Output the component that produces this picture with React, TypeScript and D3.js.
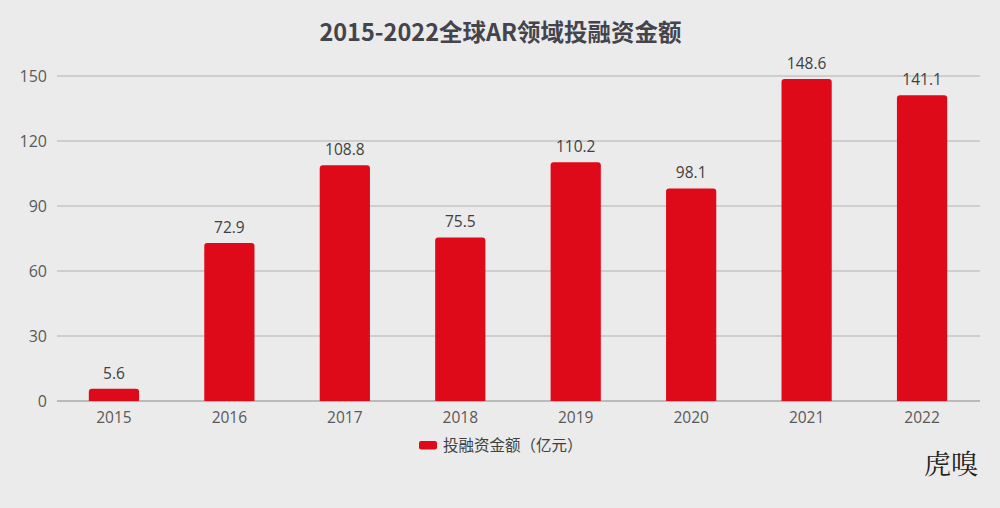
import React from "react";
import * as d3 from "d3";

const years = ["2015", "2016", "2017", "2018", "2019", "2020", "2021", "2022"];
const values = [5.6, 72.9, 108.8, 75.5, 110.2, 98.1, 148.6, 141.1];
const yTicks = [0, 30, 60, 90, 120, 150];
const title = "2015-2022全球AR领域投融资金额";
const seriesName = "投融资金额（亿元）";

const W = 1000, H = 508;
const CJK = "'Noto Sans CJK SC', 'Noto Sans', sans-serif";
const NUM = "'Open Sans', 'Noto Sans', sans-serif";

export default function App() {
  const x = d3.scaleBand().domain(years).range([56.5, 979.5]).paddingInner(0.565).paddingOuter(0.28);
  const y = d3.scaleLinear().domain([0, 150]).range([401, 76]);
  const bw = x.bandwidth();
  const r = 3;
  const barPath = (x0: number, y0: number, w: number, h: number) => {
    const rr = Math.min(r, h / 2);
    return `M${x0},${y0 + h}V${y0 + rr}Q${x0},${y0} ${x0 + rr},${y0}H${x0 + w - rr}Q${x0 + w},${y0} ${x0 + w},${y0 + rr}V${y0 + h}Z`;
  };
  return (
    <svg width={W} height={H} style={{ position: "absolute", left: 0, top: 0, background: "#ebebeb" }} fontFamily={CJK}>
      <rect x={0} y={0} width={W} height={H} fill="#ebebeb" />
      <text x={500.5} y={41} textAnchor="middle" fontSize={23.5} fontWeight="bold" fill="#44444c">{title}</text>
      {yTicks.map((t) => (
        <g key={t}>
          <line x1={57} x2={980} y1={y(t)} y2={y(t)} stroke={t === 0 ? "#aaaaaa" : "#c4c4c4"} strokeWidth={1.3} />
          <text x={47} y={y(t)} dy="0.35em" textAnchor="end" fontSize={16} fill="#595959" fontFamily={NUM}>{t}</text>
        </g>
      ))}
      {years.map((yr, i) => {
        const x0 = x(yr)!;
        const y0 = y(values[i]);
        return (
          <g key={yr}>
            <path d={barPath(x0, y0, bw, y(0) - y0)} fill="#df0a19" />
            <text x={x0 + bw / 2} y={y0 - 10} textAnchor="middle" fontSize={15.5} fill="#404040" fontFamily={NUM}>{values[i].toFixed(1)}</text>
            <text x={x0 + bw / 2} y={423} textAnchor="middle" fontSize={15.5} fill="#595959" fontFamily={NUM}>{yr}</text>
          </g>
        );
      })}
      <rect x={419} y={441} width={18} height={8.5} rx={2} fill="#df0a19" />
      <text x={443} y={450.5} fontSize={15.5} fill="#404040">{seriesName}</text>
      <text x={978} y={474} textAnchor="end" fontSize={27} fill="#222" fontFamily="'Noto Serif CJK SC', 'Noto Sans CJK SC', serif">虎嗅</text>
    </svg>
  );
}
